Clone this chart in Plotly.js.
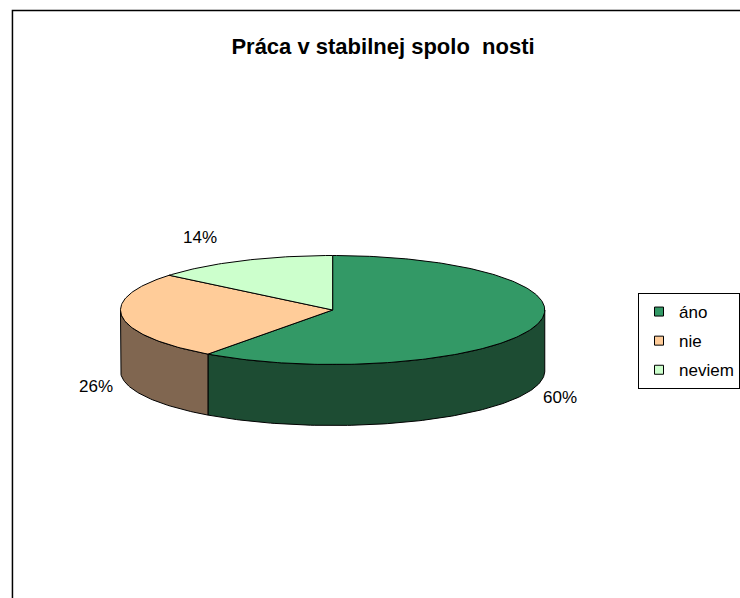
<!DOCTYPE html>
<html>
<head>
<meta charset="utf-8">
<script src="https://cdn.plot.ly/plotly-3.0.1.min.js"></script>
<style>html,body{margin:0;padding:0;background:#fff;}#chart{width:740px;height:598px;}</style>
</head>
<body>
<div id="chart"></div>
<script>
// ---- data ----
const categories = ["áno", "nie", "neviem"];
const values = [60, 26, 14];
const chartTitle = "Práca v stabilnej spolo  nosti";

// ---- style ----
const topColors = ["#339966", "#FFCC99", "#CCFFCC"];
const sideColors = ["#1D4C33", "#806650", "#66806A"];
const geom = {cx: 334, cy: 310, rx: 213, ry: 54.5, depth: 61};
const FONT = "Liberation Sans, Arial, sans-serif";

const total = values.reduce((a, b) => a + b, 0);
const rad = d => d * Math.PI / 180;
function pt(angDeg, dy) {
  return [geom.cx + geom.rx * Math.sin(rad(angDeg)), geom.cy - geom.ry * Math.cos(rad(angDeg)) + (dy || 0)];
}
function arc(a0, a1, dy) {
  const out = [];
  const n = Math.max(2, Math.ceil(Math.abs(a1 - a0)));
  for (let i = 0; i <= n; i++) out.push(pt(a0 + (a1 - a0) * i / n, dy));
  return out;
}

const sideTraces = [], topTraces = [], legendTraces = [], annotations = [];
let start = 0;
values.forEach((v, i) => {
  const a0 = start, a1 = start + v / total * 360;
  start = a1;
  // side face (front half only: 90..270 deg)
  const s0 = Math.max(a0, 90), s1 = Math.min(a1, 270);
  if (s1 > s0) {
    const pts = arc(s0, s1, 0).concat(arc(s1, s0, geom.depth));
    pts.push(pts[0]);
    sideTraces.push({type: "scatter", mode: "lines", fill: "toself", fillcolor: sideColors[i],
      x: pts.map(p => p[0]), y: pts.map(p => p[1]),
      line: {color: "#000", width: 1}, hoverinfo: "skip", showlegend: false});
  }
  // top face
  const tp = [[geom.cx, geom.cy]].concat(arc(a0, a1, 0));
  tp.push([geom.cx, geom.cy]);
  topTraces.push({type: "scatter", mode: "lines", fill: "toself", fillcolor: topColors[i],
    x: tp.map(p => p[0]), y: tp.map(p => p[1]), name: categories[i],
    line: {color: "#000", width: 1}, hoverinfo: "skip", showlegend: false});
  // legend entry
  legendTraces.push({type: "scatter", mode: "markers", x: [null], y: [null], name: categories[i],
    legendgroup: "g" + i,
    marker: {symbol: "square", size: 9, color: topColors[i], line: {color: "#000", width: 1}}});
  // percent label
  const mid = (a0 + a1) / 2;
  const front = Math.cos(rad(mid)) < 0;
  const e = pt(mid, front ? geom.depth : 0);
  const dx = e[0] - geom.cx, dy = e[1] - (front ? geom.cy + geom.depth : geom.cy) + (front ? geom.depth : 0);
  const len = Math.hypot(dx, dy);
  const push = front ? 28 : 48;
  annotations.push({xref: "x", yref: "y", x: e[0] + dx / len * push, y: e[1] + dy / len * push,
    text: Math.round(v / total * 100) + "%", showarrow: false,
    xanchor: "center", yanchor: "middle", font: {family: FONT, size: 17, color: "#000"}});
});

const layout = {
  width: 740, height: 598,
  margin: {l: 0, r: 0, t: 0, b: 0},
  paper_bgcolor: "#fff", plot_bgcolor: "#fff",
  title: {text: "<b>" + chartTitle + "</b>", x: 383 / 740, xanchor: "center", y: 1 - 46 / 598, yanchor: "middle",
    font: {family: FONT, size: 22, color: "#000"}},
  xaxis: {range: [0, 740], visible: false, fixedrange: true},
  yaxis: {range: [598, 0], visible: false, fixedrange: true},
  showlegend: true,
  legend: {x: 641 / 740, xanchor: "left", y: 1 - 293 / 598, yanchor: "top",
    bordercolor: "#000", borderwidth: 1, bgcolor: "#fff",
    font: {family: FONT, size: 17, color: "#000"}, traceorder: "grouped", tracegroupgap: 4},
  annotations: annotations,
  shapes: [{type: "rect", xref: "paper", yref: "paper", x0: 12.5 / 740, x1: 1.05, y0: -0.05, y1: 1 - 10.5 / 598,
    line: {color: "#000", width: 1.5}, fillcolor: "rgba(0,0,0,0)", layer: "below"}]
};

Plotly.newPlot("chart", sideTraces.concat(topTraces, legendTraces), layout, {staticPlot: true, displayModeBar: false});
</script>
</body>
</html>
